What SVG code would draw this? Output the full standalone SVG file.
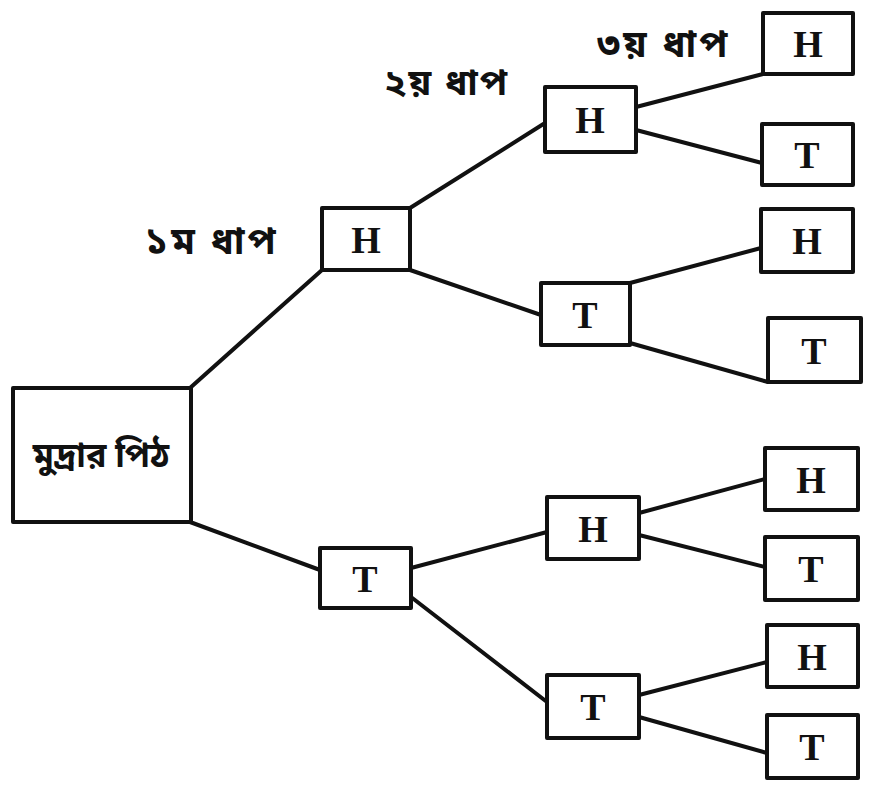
<svg xmlns="http://www.w3.org/2000/svg" width="878" height="791" viewBox="0 0 878 791">
<style>
.box{fill:#fff;stroke:#111;stroke-width:4;stroke-linejoin:round}
.lbl{font-family:"Liberation Serif","Times New Roman",serif;font-size:38px;fill:#111;text-anchor:middle;font-weight:bold}
.bn{font-family:"Noto Sans Bengali","Noto Serif Bengali","Lohit Bengali","FreeSerif","Noto Sans",sans-serif;font-weight:bold;fill:#111}
#connectors line{stroke:#111;stroke-width:4;stroke-linecap:round}
</style>
<rect width="878" height="791" fill="#fff"/>
<g id="connectors">
<line x1="190" y1="388" x2="322" y2="270"/>
<line x1="190" y1="522" x2="320" y2="570"/>
<line x1="410" y1="208" x2="545" y2="123"/>
<line x1="410" y1="270" x2="541" y2="315"/>
<line x1="636" y1="107" x2="763" y2="74"/>
<line x1="636" y1="130" x2="762" y2="163"/>
<line x1="630" y1="283" x2="761" y2="248"/>
<line x1="630" y1="343" x2="768" y2="382"/>
<line x1="411" y1="568" x2="547" y2="532"/>
<line x1="411" y1="597" x2="547" y2="702"/>
<line x1="639" y1="513" x2="765" y2="479"/>
<line x1="639" y1="535" x2="765" y2="567"/>
<line x1="639" y1="695" x2="767" y2="662"/>
<line x1="639" y1="717" x2="767" y2="753"/>
</g>
<g id="root"><rect class="box" x="13" y="388" width="178" height="134"/><text class="bn" x="101" y="467" font-size="34" text-anchor="middle">মুদ্রার পিঠ</text></g>
<g id="l1H"><rect class="box" x="322" y="208" width="88" height="62"/><text class="lbl" x="366" y="253">H</text></g>
<g id="l1T"><rect class="box" x="320" y="548" width="91" height="60"/><text class="lbl" x="365" y="592">T</text></g>
<g id="l2HH"><rect class="box" x="545" y="87" width="91" height="65"/><text class="lbl" x="590" y="133">H</text></g>
<g id="l2HT"><rect class="box" x="541" y="283" width="89" height="62"/><text class="lbl" x="585" y="328">T</text></g>
<g id="l2TH"><rect class="box" x="547" y="497" width="92" height="62"/><text class="lbl" x="593" y="542">H</text></g>
<g id="l2TT"><rect class="box" x="547" y="675" width="92" height="63"/><text class="lbl" x="593" y="720">T</text></g>
<g id="l3a"><rect class="box" x="763" y="13" width="90" height="61"/><text class="lbl" x="808" y="57">H</text></g>
<g id="l3b"><rect class="box" x="762" y="124" width="91" height="61"/><text class="lbl" x="807" y="168">T</text></g>
<g id="l3c"><rect class="box" x="761" y="209" width="92" height="63"/><text class="lbl" x="807" y="254">H</text></g>
<g id="l3d"><rect class="box" x="768" y="318" width="93" height="64"/><text class="lbl" x="814" y="364">T</text></g>
<g id="l3e"><rect class="box" x="765" y="448" width="93" height="62"/><text class="lbl" x="811" y="493">H</text></g>
<g id="l3f"><rect class="box" x="765" y="537" width="93" height="63"/><text class="lbl" x="811" y="582">T</text></g>
<g id="l3g"><rect class="box" x="767" y="625" width="91" height="62"/><text class="lbl" x="812" y="670">H</text></g>
<g id="l3h"><rect class="box" x="767" y="715" width="91" height="63"/><text class="lbl" x="812" y="760">T</text></g>
<g id="labels">
<text class="bn" x="145" y="254" font-size="38" letter-spacing="3">১ম ধাপ</text>
<text class="bn" x="384" y="95" font-size="37" letter-spacing="2">২য় ধাপ</text>
<text class="bn" x="597" y="57" font-size="38" letter-spacing="3">৩য় ধাপ</text>
</g>
</svg>
